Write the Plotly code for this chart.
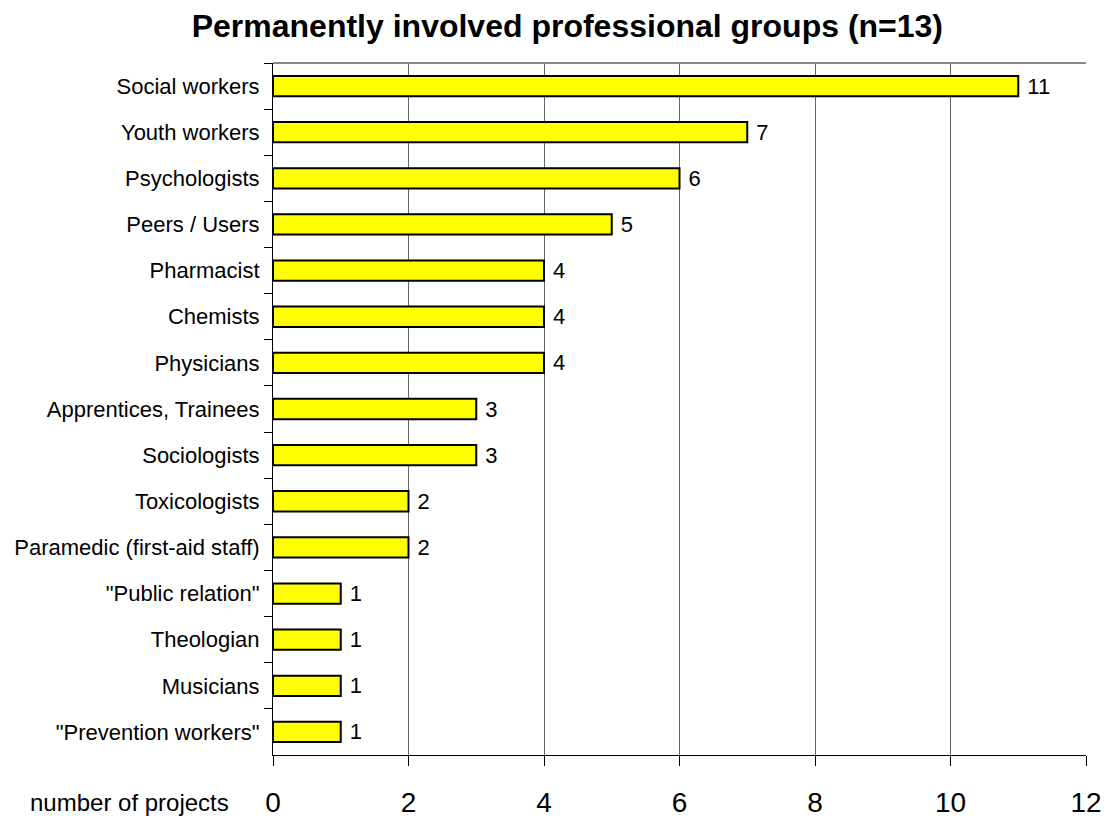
import plotly.graph_objects as go

categories = ["Social workers", "Youth workers", "Psychologists", "Peers / Users",
              "Pharmacist", "Chemists", "Physicians", "Apprentices, Trainees",
              "Sociologists", "Toxicologists", "Paramedic (first-aid staff)",
              "\"Public relation\"", "Theologian", "Musicians", "\"Prevention workers\""]
values = [11, 7, 6, 5, 4, 4, 4, 3, 3, 2, 2, 1, 1, 1, 1]
x_ticks = [0, 2, 4, 6, 8, 10, 12]

FONT = "Liberation Sans, Arial, sans-serif"

fig = go.Figure(go.Bar(
    x=values, y=categories, orientation="h",
    marker=dict(color="#FFFF00", line=dict(color="#000000", width=2)),
    texttemplate="\u00a0%{x}", textposition="outside", constraintext="none",
    textfont=dict(family=FONT, size=22, color="#000000"),
    cliponaxis=False,
))

fig.update_layout(
    width=1106, height=818,
    margin=dict(l=273, r=20, t=63, b=63, autoexpand=False),
    paper_bgcolor="white", plot_bgcolor="white",
    bargap=0.56,
    showlegend=False,
    title=dict(text="<b>Permanently involved professional groups (n=13)</b>",
               x=0.513, xanchor="center", y=0.969, yanchor="middle",
               font=dict(family=FONT, size=32, color="#000000")),
    font=dict(family=FONT, color="#000000"),
    xaxis=dict(range=[0, 12], tickvals=x_ticks, ticktext=[str(t) for t in x_ticks],
               showgrid=True, gridcolor="#666666", gridwidth=1,
               showline=True, linecolor="#000000", linewidth=1,
               ticks="outside", ticklen=10, tickcolor="#000000",
               ticklabelstandoff=12, automargin=False,
               tickfont=dict(family=FONT, size=28, color="#000000"),
               zeroline=False, fixedrange=True),
    yaxis=dict(autorange="reversed", showline=True, linecolor="#000000", linewidth=1,
               ticks="outside", ticklen=8, tickcolor="#000000", tickson="boundaries",
               ticklabelstandoff=8, automargin=False,
               tickfont=dict(family=FONT, size=22, color="#000000"),
               showgrid=False, fixedrange=True),
    shapes=[dict(type="line", xref="paper", yref="paper", x0=0, x1=1, y0=1, y1=1,
                 line=dict(color="#888888", width=2))],
    annotations=[dict(text="number of projects", xref="paper", yref="paper",
                      x=-0.176, y=-0.069, xanchor="center", yanchor="middle",
                      showarrow=False, font=dict(family=FONT, size=24, color="#000000"))],
)

fig.write_html("out.html")
